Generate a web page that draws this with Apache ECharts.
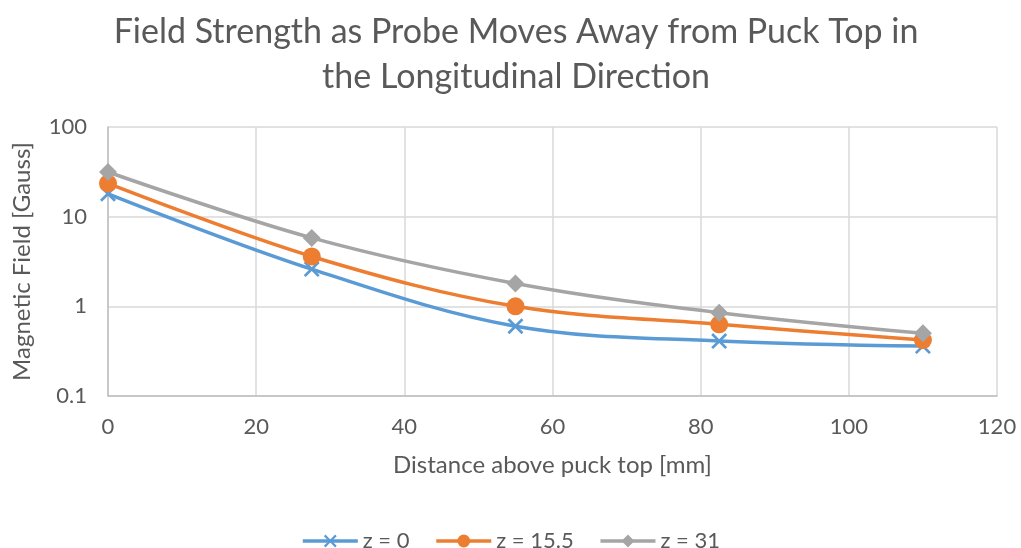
<!DOCTYPE html>
<html>
<head>
<meta charset="utf-8">
<script src="https://cdn.jsdelivr.net/npm/echarts@6/dist/echarts.min.js"></script>
<style>
  html, body { margin: 0; padding: 0; background: #fff; }
  #chart { width: 1021px; height: 548px; }
</style>
</head>
<body>
<div id="chart"></div>
<script>
const distances = [0, 27.5, 55, 82.5, 110]
const z0 = [18, 2.6, 0.6, 0.41, 0.36]
const z155 = [23.5, 3.6, 1.0, 0.63, 0.42]
const z31 = [31.5, 5.8, 1.8, 0.85, 0.5]
const seriesNames = ['z = 0', 'z = 15.5', 'z = 31']

const xMark = 'path://M0,1.2L1.2,0L5,3.8L8.8,0L10,1.2L6.2,5L10,8.8L8.8,10L5,6.2L1.2,10L0,8.8L3.8,5Z'
const textColor = '#595959'
const font = 'Lato, "Open Sans", sans-serif'

function pairs(ys) {
  return distances.map((x, i) => [x, ys[i]])
}

const chart = echarts.init(document.getElementById('chart'))
chart.setOption({
  animation: false,
  title: {
    text: 'Field Strength as Probe Moves Away from Puck Top in\nthe Longitudinal Direction',
    left: 511,
    textAlign: 'center',
    top: 5,
    textStyle: {
      color: textColor,
      fontFamily: font,
      fontWeight: 'normal',
      fontSize: 34,
      lineHeight: 45,
    },
  },
  grid: {
    left: 108,
    right: 24,
    top: 127,
    bottom: 152,
  },
  xAxis: {
    type: 'value',
    min: 0,
    max: 120,
    interval: 20,
    name: 'Distance above puck top [mm]',
    nameLocation: 'middle',
    nameGap: 57,
    nameTextStyle: { color: textColor, fontFamily: font, fontSize: 24 },
    axisLine: { show: true, lineStyle: { color: '#bfbfbf', width: 1.5 } },
    axisTick: { show: false },
    axisLabel: { color: textColor, fontFamily: font, fontSize: 22, margin: 20 },
    splitLine: { show: true, lineStyle: { color: '#d9d9d9', width: 1.5 } },
  },
  yAxis: {
    type: 'log',
    logBase: 10,
    min: 0.1,
    max: 100,
    name: 'Magnetic Field [Gauss]',
    nameLocation: 'middle',
    nameGap: 74,
    nameTextStyle: { color: textColor, fontFamily: font, fontSize: 24 },
    axisLine: { show: true, lineStyle: { color: '#bfbfbf', width: 1.5 } },
    axisTick: { show: false },
    axisLabel: {
      color: textColor,
      fontFamily: font,
      fontSize: 22,
      margin: 21,
      formatter: v => String(Number(v.toPrecision(3))),
    },
    splitLine: { show: true, lineStyle: { color: '#d9d9d9', width: 1.5 } },
  },
  legend: {
    top: 525,
    left: 'center',
    itemWidth: 55,
    itemHeight: 16,
    itemGap: 25,
    lineStyle: { width: 3.5 },
    textStyle: { color: textColor, fontFamily: font, fontSize: 22 },
    data: seriesNames,
  },
  series: [
    {
      name: seriesNames[0],
      type: 'line',
      smooth: 0.35,
      data: pairs(z0),
      symbol: xMark,
      symbolSize: 16,
      lineStyle: { color: '#5b9bd5', width: 3.5 },
      itemStyle: { color: '#5b9bd5' },
    },
    {
      name: seriesNames[1],
      type: 'line',
      smooth: 0.35,
      data: pairs(z155),
      symbol: 'circle',
      symbolSize: 18,
      lineStyle: { color: '#ed7d31', width: 3.5 },
      itemStyle: { color: '#ed7d31' },
    },
    {
      name: seriesNames[2],
      type: 'line',
      smooth: 0.35,
      data: pairs(z31),
      symbol: 'diamond',
      symbolSize: 18,
      lineStyle: { color: '#a5a5a5', width: 3.5 },
      itemStyle: { color: '#a5a5a5' },
    },
  ],
})
</script>
</body>
</html>
